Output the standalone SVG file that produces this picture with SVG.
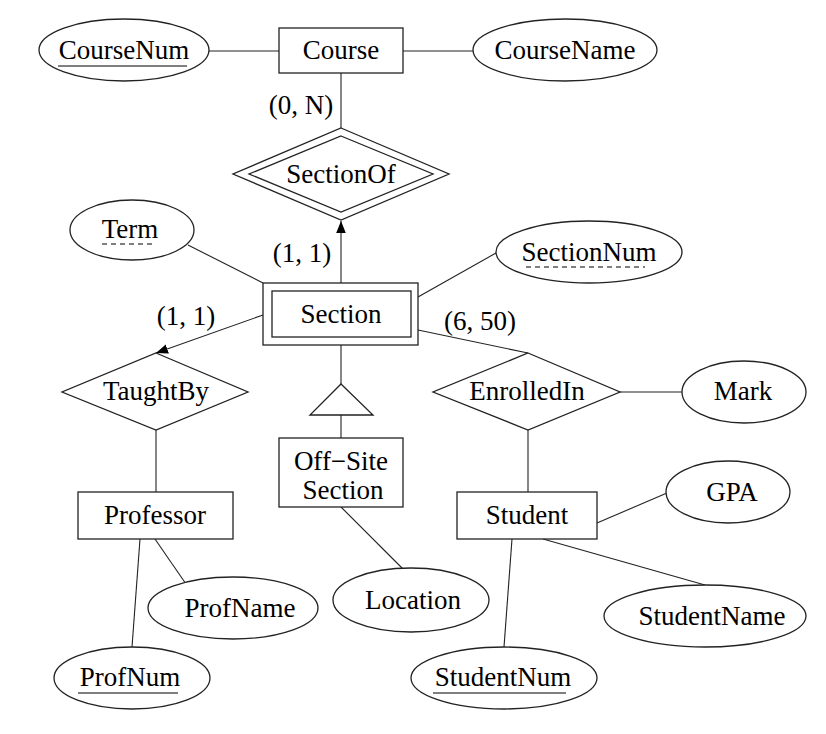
<svg xmlns="http://www.w3.org/2000/svg" width="826" height="734" viewBox="0 0 826 734">
<style>
.s{fill:#fff;stroke:#222;stroke-width:1.3}
.l{stroke:#222;stroke-width:1.1;fill:none}
text{font-family:"Liberation Serif","Times New Roman",serif;font-size:27px;fill:#000;text-anchor:middle}
.u{stroke:#000;stroke-width:1.2}
.d{stroke:#000;stroke-width:1.2;stroke-dasharray:5,4}
</style>
<defs>
<marker id="ar" viewBox="0 0 10 10" refX="10" refY="5" markerWidth="12" markerHeight="12" markerUnits="userSpaceOnUse" orient="auto">
<path d="M0,1 L10,5 L0,9 z" fill="#000"/>
</marker>
</defs>
<g id="connectors">
<line class="l" x1="209" y1="51" x2="279" y2="51"/>
<line class="l" x1="403" y1="51" x2="473" y2="51"/>
<line class="l" x1="341" y1="73" x2="341" y2="128"/>
<line class="l" x1="341" y1="283" x2="341" y2="221" marker-end="url(#ar)"/>
<line class="l" x1="188" y1="245" x2="263" y2="283"/>
<line class="l" x1="496" y1="253" x2="418" y2="297"/>
<line class="l" x1="263" y1="315" x2="156" y2="353" marker-end="url(#ar)"/>
<line class="l" x1="156" y1="430" x2="156" y2="492"/>
<line class="l" x1="341" y1="345" x2="341" y2="384"/>
<line class="l" x1="341" y1="415" x2="341" y2="438"/>
<line class="l" x1="341" y1="507" x2="403" y2="569"/>
<line class="l" x1="418" y1="330" x2="528" y2="353"/>
<line class="l" x1="620" y1="392" x2="682" y2="392"/>
<line class="l" x1="528" y1="430" x2="528" y2="492"/>
<line class="l" x1="597" y1="523" x2="667" y2="493"/>
<line class="l" x1="512" y1="539" x2="504" y2="647"/>
<line class="l" x1="543" y1="539" x2="705" y2="585"/>
<line class="l" x1="140" y1="539" x2="132" y2="647"/>
<line class="l" x1="155" y1="539" x2="186" y2="584"/>
<text x="301" y="114">(0, N)</text>
<text x="302" y="262">(1, 1)</text>
<text x="186" y="325">(1, 1)</text>
<text x="480" y="330">(6, 50)</text>
</g>
<g id="CourseNum">
<ellipse class="s" cx="124" cy="50" rx="85" ry="31"/>
<text x="124" y="59">CourseNum</text>
<line class="u" x1="58" y1="66" x2="187" y2="66"/>
</g>
<g id="Course">
<rect class="s" x="279" y="28" width="124" height="45"/>
<text x="341" y="59">Course</text>
</g>
<g id="CourseName">
<ellipse class="s" cx="565" cy="50" rx="92" ry="31"/>
<text x="565" y="59">CourseName</text>
</g>
<g id="SectionOf">
<polygon class="s" points="341,128 449,174 341,220 233,174"/>
<polygon class="s" points="341,136 433,174 341,212 249,174"/>
<text x="341" y="183">SectionOf</text>
</g>
<g id="Term">
<ellipse class="s" cx="132" cy="230" rx="62" ry="30"/>
<text x="130" y="238">Term</text>
<line class="d" x1="102" y1="244" x2="156" y2="244"/>
</g>
<g id="SectionNum">
<ellipse class="s" cx="589" cy="252" rx="93" ry="31"/>
<text x="589" y="261">SectionNum</text>
<line class="d" x1="526" y1="267" x2="645" y2="267"/>
</g>
<g id="Section">
<rect class="s" x="263" y="283" width="155" height="62"/>
<rect class="s" x="272" y="291" width="139" height="46"/>
<text x="341" y="323">Section</text>
</g>
<g id="TaughtBy">
<polygon class="s" points="156,353 248,392 156,430 62,392"/>
<text x="156" y="400">TaughtBy</text>
</g>
<g id="ISA">
<polygon class="s" points="341,384 373,415 310,415"/>
</g>
<g id="EnrolledIn">
<polygon class="s" points="528,353 620,392 528,430 433,392"/>
<text x="527" y="400">EnrolledIn</text>
</g>
<g id="Mark">
<ellipse class="s" cx="744" cy="392" rx="62" ry="31"/>
<text x="743" y="400">Mark</text>
</g>
<g id="OffSiteSection">
<rect class="s" x="279" y="438" width="124" height="69"/>
<text x="341" y="470">Off−Site</text>
<text x="343" y="499">Section</text>
</g>
<g id="Professor">
<rect class="s" x="78" y="492" width="155" height="47"/>
<text x="155" y="524">Professor</text>
</g>
<g id="Student">
<rect class="s" x="457" y="492" width="140" height="47"/>
<text x="527" y="524">Student</text>
</g>
<g id="GPA">
<ellipse class="s" cx="728" cy="492" rx="62" ry="31"/>
<text x="732" y="501">GPA</text>
</g>
<g id="Location">
<ellipse class="s" cx="411" cy="600" rx="78" ry="32"/>
<text x="413" y="609">Location</text>
</g>
<g id="ProfName">
<ellipse class="s" cx="233" cy="608" rx="85" ry="31"/>
<text x="240" y="617">ProfName</text>
</g>
<g id="StudentName">
<ellipse class="s" cx="705" cy="616" rx="101" ry="31"/>
<text x="712" y="625">StudentName</text>
</g>
<g id="ProfNum">
<ellipse class="s" cx="132" cy="678" rx="78" ry="31"/>
<text x="130" y="686">ProfNum</text>
<line class="u" x1="78" y1="693" x2="178" y2="693"/>
</g>
<g id="StudentNum">
<ellipse class="s" cx="504" cy="678" rx="93" ry="31"/>
<text x="503" y="686">StudentNum</text>
<line class="u" x1="433" y1="693" x2="566" y2="693"/>
</g>
</svg>
